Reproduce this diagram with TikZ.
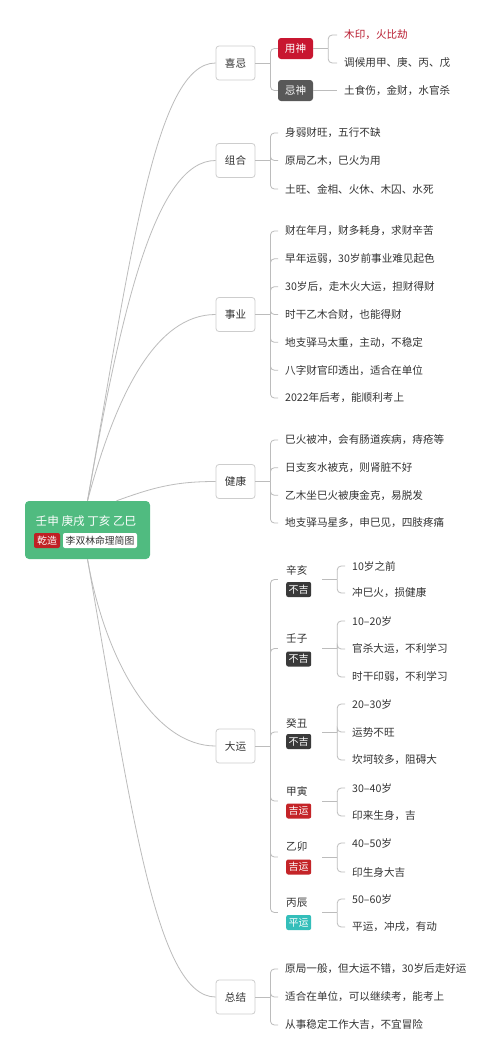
\documentclass[tikz,border=0pt]{standalone}
\usepackage{fontspec}
\setmainfont{Noto Sans CJK SC}
\usetikzlibrary{calc}
\definecolor{lineg}{RGB}{188,188,188}
\definecolor{boxc}{RGB}{205,205,205}
\definecolor{txt}{RGB}{51,51,51}
\definecolor{rootg}{RGB}{80,187,128}
\definecolor{ysred}{RGB}{200,22,48}
\definecolor{ystext}{RGB}{185,30,50}
\definecolor{jsgray}{RGB}{88,88,88}
\definecolor{bjdark}{RGB}{58,58,58}
\definecolor{jyred}{RGB}{196,36,40}
\definecolor{pyteal}{RGB}{52,190,186}
\definecolor{qzred}{RGB}{192,32,36}
\newcommand\myfs[1]{\fontsize{#1pt}{#1pt}\selectfont}
\begin{document}
\begin{tikzpicture}[x=1pt,y=-1pt,
  conn/.style={draw=lineg, line width=0.8pt},
  rc/.style={rounded corners=4pt},
  l1/.style={draw=boxc, fill=white, line width=0.8pt, rounded corners=3pt, minimum width=39pt, minimum height=34pt, inner sep=0pt, font=\myfs{10.6}, text=txt},
  rootbox/.style={fill=rootg, rounded corners=4pt, minimum width=125pt, minimum height=58pt, inner sep=0pt},
  kbox/.style={text=white, rounded corners=3pt, minimum width=35pt, minimum height=21pt, inner sep=0pt, font=\myfs{10.6}},
  leaf/.style={anchor=west, inner xsep=7pt, inner ysep=2pt, font=\myfs{10.6}, text=txt},
  lbl/.style={anchor=west, inner sep=0pt, font=\myfs{10.6}, text=txt},
  tagbox/.style={anchor=west, text=white, rounded corners=2pt, inner xsep=2.5pt, inner ysep=0pt, minimum height=15pt, font=\myfs{10}},
  grp/.style={minimum width=44pt, minimum height=36pt, inner sep=0pt}
]
\useasboundingbox (0,0) rectangle (500,1060);
\fill[white] (0,0) rectangle (500,1060);

% root
\node[rootbox] (root) at (87.5,530) {};
\node[text=white, font=\myfs{11.6}, inner sep=0pt] (rtitle) at (86,521) {壬申 庚戌 丁亥 乙巳};
\node[fill=qzred, text=white, rounded corners=2pt, minimum width=26pt, minimum height=15pt, inner sep=0pt, font=\myfs{10}] (qz) at (47,540.5) {乾造};
\node[fill=white, text=txt, rounded corners=2pt, minimum width=74pt, minimum height=15pt, inner sep=0pt, font=\myfs{9.8}] (lsl) at (100,540.5) {李双林命理简图};

% level 1
\node[l1] (xiji) at (235.5,63) {喜忌};
\node[l1] (zuhe) at (235.5,160.5) {组合};
\node[l1] (shiye) at (235.5,314.5) {事业};
\node[l1] (jiankang) at (235.5,481.5) {健康};
\node[l1] (dayun) at (235.5,746) {大运};
\node[l1] (zongjie) at (235.5,997) {总结};

% root curves
\draw[conn] (root.north) .. controls +(-80:250) and +(-60,0) .. (xiji.west);
\draw[conn] (root.north) .. controls +(-80:195) and +(-60,0) .. (zuhe.west);
\draw[conn] (root.north) .. controls +(-75:110) and +(-60,0) .. (shiye.west);
\draw[conn] ([xshift=29pt]root.north) .. controls +(-20:40) and +(-40,0) .. (jiankang.west);
\draw[conn] (root.south) .. controls +(80:106) and +(-60,0) .. (dayun.west);
\draw[conn] (root.south) .. controls +(80:250) and +(-60,0) .. (zongjie.west);

% 喜忌
\node[kbox, fill=ysred] (yongshen) at (295.5,48.5) {用神};
\node[kbox, fill=jsgray] (jishen) at (295.5,90.5) {忌神};
\node[leaf, text=ystext] (ys1) at (337,35) {木印，火比劫};
\node[leaf] (ys2) at (337,63) {调候用甲、庚、丙、戊};
\node[leaf] (js1) at (337,90.5) {土食伤，金财，水官杀};
\draw[conn] (xiji.east) -- ++(15,0) coordinate (xijiJ);
\foreach \c in {yongshen,jishen} \draw[conn,rc] (xijiJ) |- (\c.west);
\draw[conn] (yongshen.east) -- ++(15,0) coordinate (ysJ);
\foreach \c in {ys1,ys2} \draw[conn,rc] (ysJ) |- (\c.west);
\draw[conn] (jishen.east) -- (js1.west);

% 组合
\node[leaf] (zh1) at (278,133) {身弱财旺，五行不缺};
\node[leaf] (zh2) at (278,160.5) {原局乙木，巳火为用};
\node[leaf] (zh3) at (278,189) {土旺、金相、火休、木囚、水死};
\draw[conn] (zuhe.east) -- ++(15,0) coordinate (zuheJ);
\foreach \c in {zh1,zh2,zh3} \draw[conn,rc] (zuheJ) |- (\c.west);

% 事业
\node[leaf] (sy1) at (278,231) {财在年月，财多耗身，求财辛苦};
\node[leaf] (sy2) at (278,258.8) {早年运弱，30岁前事业难见起色};
\node[leaf] (sy3) at (278,286.7) {30岁后，走木火大运，担财得财};
\node[leaf] (sy4) at (278,314.5) {时干乙木合财，也能得财};
\node[leaf] (sy5) at (278,342.3) {地支驿马太重，主动，不稳定};
\node[leaf] (sy6) at (278,370.2) {八字财官印透出，适合在单位};
\node[leaf] (sy7) at (278,398) {2022年后考，能顺利考上};
\draw[conn] (shiye.east) -- ++(15,0) coordinate (shiyeJ);
\foreach \c in {sy1,sy2,sy3,sy4,sy5,sy6,sy7} \draw[conn,rc] (shiyeJ) |- (\c.west);

% 健康
\node[leaf] (jk1) at (278,440) {巳火被冲，会有肠道疾病，痔疮等};
\node[leaf] (jk2) at (278,467.7) {日支亥水被克，则肾脏不好};
\node[leaf] (jk3) at (278,495.3) {乙木坐巳火被庚金克，易脱发};
\node[leaf] (jk4) at (278,523) {地支驿马星多，申巳见，四肢疼痛};
\draw[conn] (jiankang.east) -- ++(15,0) coordinate (jkJ);
\foreach \c in {jk1,jk2,jk3,jk4} \draw[conn,rc] (jkJ) |- (\c.west);

% 大运 level 2
\node[grp] (xinhai) at (300,579.5) {};
\node[lbl] (xinhaiL) at (286,570) {辛亥};
\node[tagbox, fill=bjdark] (xinhaiT) at (286,589.5) {不吉};
\node[grp] (renzi) at (300,648.5) {};
\node[lbl] (renziL) at (286,639) {壬子};
\node[tagbox, fill=bjdark] (renziT) at (286,659) {不吉};
\node[grp] (guichou) at (300,732) {};
\node[lbl] (guichouL) at (286,723) {癸丑};
\node[tagbox, fill=bjdark] (guichouT) at (286,741.5) {不吉};
\node[grp] (jiayin) at (300,801) {};
\node[lbl] (jiayinL) at (286,791) {甲寅};
\node[tagbox, fill=jyred] (jiayinT) at (286,811) {吉运};
\node[grp] (yimao) at (300,857) {};
\node[lbl] (yimaoL) at (286,847) {乙卯};
\node[tagbox, fill=jyred] (yimaoT) at (286,867) {吉运};
\node[grp] (bingchen) at (300,912.5) {};
\node[lbl] (bingchenL) at (286,903) {丙辰};
\node[tagbox, fill=pyteal] (bingchenT) at (286,922.5) {平运};
\draw[conn] (dayun.east) -- ++(15,0) coordinate (dyJ);
\foreach \c in {xinhai,renzi,guichou,jiayin,yimao,bingchen} \draw[conn,rc] (dyJ) |- (\c.west);

% 大运 leaves
\node[leaf] (xh1) at (345,566) {10岁之前};
\node[leaf] (xh2) at (345,593) {冲巳火，损健康};
\node[leaf] (rz1) at (345,621) {10–20岁};
\node[leaf] (rz2) at (345,649) {官杀大运，不利学习};
\node[leaf] (rz3) at (345,677) {时干印弱，不利学习};
\node[leaf] (gc1) at (345,704) {20–30岁};
\node[leaf] (gc2) at (345,732) {运势不旺};
\node[leaf] (gc3) at (345,760) {坎坷较多，阻碍大};
\node[leaf] (jy1) at (345,788) {30–40岁};
\node[leaf] (jy2) at (345,816) {印来生身，吉};
\node[leaf] (ym1) at (345,843) {40–50岁};
\node[leaf] (ym2) at (345,872) {印生身大吉};
\node[leaf] (bc1) at (345,899) {50–60岁};
\node[leaf] (bc2) at (345,927) {平运，冲戌，有动};
\draw[conn] (xinhai.east) -- ++(15,0) coordinate (xhJ);
\foreach \c in {xh1,xh2} \draw[conn,rc] (xhJ) |- (\c.west);
\draw[conn] (renzi.east) -- ++(15,0) coordinate (rzJ);
\foreach \c in {rz1,rz2,rz3} \draw[conn,rc] (rzJ) |- (\c.west);
\draw[conn] (guichou.east) -- ++(15,0) coordinate (gcJ);
\foreach \c in {gc1,gc2,gc3} \draw[conn,rc] (gcJ) |- (\c.west);
\draw[conn] (jiayin.east) -- ++(15,0) coordinate (jyJ);
\foreach \c in {jy1,jy2} \draw[conn,rc] (jyJ) |- (\c.west);
\draw[conn] (yimao.east) -- ++(15,0) coordinate (ymJ);
\foreach \c in {ym1,ym2} \draw[conn,rc] (ymJ) |- (\c.west);
\draw[conn] (bingchen.east) -- ++(15,0) coordinate (bcJ);
\foreach \c in {bc1,bc2} \draw[conn,rc] (bcJ) |- (\c.west);

% 总结
\node[leaf] (zj1) at (278,969) {原局一般，但大运不错，30岁后走好运};
\node[leaf] (zj2) at (278,997) {适合在单位，可以继续考，能考上};
\node[leaf] (zj3) at (278,1025) {从事稳定工作大吉，不宜冒险};
\draw[conn] (zongjie.east) -- ++(15,0) coordinate (zjJ);
\foreach \c in {zj1,zj2,zj3} \draw[conn,rc] (zjJ) |- (\c.west);
\end{tikzpicture}
\end{document}
